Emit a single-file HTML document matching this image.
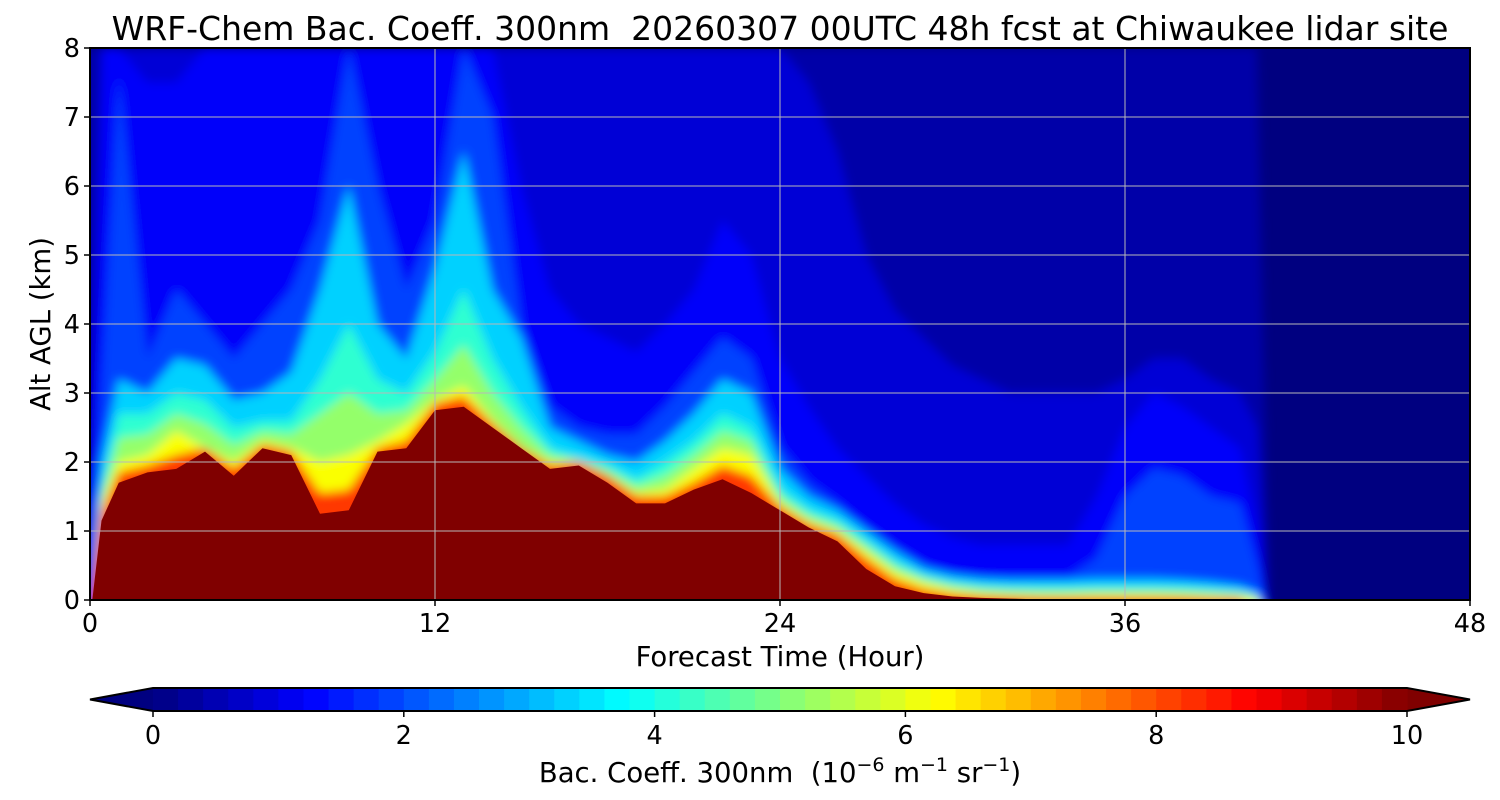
<!DOCTYPE html>
<html><head><meta charset="utf-8">
<style>
html,body{margin:0;padding:0;background:#fff;}
svg{display:block;font-family:"DejaVu Sans","Liberation Sans",sans-serif;}
</style></head>
<body>
<svg id="chart" width="1500" height="800" viewBox="0 0 1500 800" xmlns="http://www.w3.org/2000/svg">
<defs>
<clipPath id="plotclip"><rect x="90" y="48" width="1380" height="551"/></clipPath>
<filter id="soft" x="-5%" y="-5%" width="110%" height="110%"><feGaussianBlur stdDeviation="5"/></filter>
</defs>
<text x="780" y="40" text-anchor="middle" font-size="33" style="white-space:pre">WRF-Chem Bac. Coeff. 300nm  20260307 00UTC 48h fcst at Chiwaukee lidar site</text>
<g id="plot" clip-path="url(#plotclip)"></g>
<g id="axes"></g>
<g id="cbar"></g>
</svg>
<script>
// forecast hours (x) at which contour-level top heights are sampled
const times = [0,0.4,1,2,3,4,5,6,7,8,9,10,11,12,13,14,15,16,17,18,19,20,21,22,23,24,25,26,27,28,29,30,31,32,33,34,35,36,37,38,39,40,40.6,41,42,43,44,45,46,47,48];
// top altitude (km) of region exceeding each level
const lvl05 = [8,8, 8,8,8,8,8,8,8,8,8,8,8,8,8,8,8,8,8,8,8,8,8,8,8,8,8,8,8,8,8,8,8,8,8,8,8,8,8,8,8,8, 8, 0,0,0,0,0,0,0,0];
const lvl1 = [2,8, 8,8,8,8,8,8,8,8,8,8,8,8,8,8,8,8,8,8,8,8,8,8,8,8,7.5, 6.5,5,4.2,3.8,3.4,3.2,3,3,3,3,3.2,3.5,3.5,3.2,3, 2.5, 0,0,0,0,0,0,0,0];
const lvl15 = [1,8, 8,7.5,7.5,8,8,8,8,8,8,8,8,8,8,8,6,4.5,4,3.8,3.6,4,4.5,5.5,5,3.5,2.8,2.2,1.8,1.4,1.1,0.9,0.8,0.8,0.8,0.8,1.5,2.5,3,2.8,2.5,2.2, 1.0, 0,0,0,0,0,0,0,0];
const lvl2 = [0,3, 7.6,3.5,4.5,4,3.5,4,4.5,5.5,8,6,4.5,5.5,8,7,4,2.8,2.5,2.4,2.4,2.8,3.3,3.8,3.5,2.2,1.7,1.4,1.0,0.75,0.5,0.38,0.33,0.33,0.33,0.33,0.6,1.5,1.9,1.8,1.5,1.4, 0.5, 0,0,0,0,0,0,0,0];
const lvl3 = [0,2, 3.2,3.0,3.5,3.4,2.9,3.0,3.3,4.5,6.0,4.0,3.5,4.8,6.5,4.5,3.8,2.5,2.3,2.1,2.0,2.3,2.7,3.2,3.0,1.9,1.5,1.3,1.0,0.7,0.45,0.35,0.3,0.28,0.28,0.28,0.3,0.3,0.3,0.28,0.25,0.2, 0.1, 0,0,0,0,0,0,0,0];
const lvl4 = [0,1.6, 2.7,2.7,3.0,2.9,2.5,2.6,2.6,3.2,4.0,3.2,3.0,3.6,4.5,3.5,2.8,2.2,2.05,1.95,1.75,2.0,2.3,2.7,2.5,1.6,1.3,1.15,0.85,0.55,0.35,0.25,0.2,0.18,0.18,0.18,0.18,0.18,0.18,0.18,0.15,0.12, 0.05, 0,0,0,0,0,0,0,0];
const lvl5 = [0,1.5, 2.35,2.4,2.7,2.55,2.25,2.45,2.4,2.7,3.0,2.7,2.75,3.2,3.7,3.0,2.5,2.1,2.02,1.88,1.65,1.8,2.1,2.45,2.3,1.5,1.22,1.07,0.78,0.48,0.3,0.2,0.15,0.13,0.12,0.12,0.13,0.13,0.13,0.12,0.1,0.08, 0.03, 0,0,0,0,0,0,0,0];
const lvl6 = [0,1.4, 2.0,2.1,2.45,2.2,2.0,2.3,2.2,2.0,2.1,2.3,2.55,2.9,3.1,2.6,2.2,2.0,2.0,1.8,1.55,1.6,1.9,2.2,2.1,1.4,1.15,1.0,0.7,0.4,0.25,0.15,0.1,0.08,0.07,0.07,0.08,0.08,0.08,0.07,0.06,0.05, 0.02, 0,0,0,0,0,0,0,0];
const lvl8 = [0,1.25, 1.85,1.95,2.1,2.2,1.9,2.25,2.15,1.55,1.6,2.2,2.3,2.85,2.95,2.55,2.2,1.95,2.0,1.8,1.5,1.5,1.7,1.95,1.8,1.35,1.1,0.95,0.6,0.3,0.15,0.08,0.05,0.04,0.03,0.03,0.03,0.03,0.03,0.03,0.02,0.02, 0, 0,0,0,0,0,0,0,0];
const lvl10 = [0,1.15, 1.7,1.85,1.9,2.15,1.8,2.2,2.1,1.25,1.3,2.15,2.2,2.75,2.8,2.5,2.2,1.9,1.95,1.7,1.4,1.4,1.6,1.75,1.55,1.3,1.05,0.85,0.45,0.2,0.1,0.05,0.03,0.02,0.01,0,0,0,0,0,0,0, 0, 0,0,0,0,0,0,0,0];
const levelValues = [0.4,0.85,1.2,1.9,3.3,4.2,5.2,6.2,8.2,10];
const xTicks = [0,12,24,36,48];
const yTicks = [0,1,2,3,4,5,6,7,8];
const cbTicks = [0,2,4,6,8,10];

const NS = "http://www.w3.org/2000/svg";
const X0=90, X1=1470, Y0=600, Y1=48;
const xs = h => X0 + (h/48)*(X1-X0);
const ys = k => Y0 - (k/8)*(Y0-Y1);
const yTop = k => k>0 ? ys(k) : Y0+20;
function jet(t){
  t=Math.max(0,Math.min(1,t));
  const c=v=>Math.round(255*Math.max(0,Math.min(1,v)));
  return `rgb(${c(1.5-Math.abs(4*t-3))},${c(1.5-Math.abs(4*t-2))},${c(1.5-Math.abs(4*t-1))})`;
}
function mk(tag, attrs, parent){
  const e=document.createElementNS(NS,tag);
  for(const k in attrs) e.setAttribute(k,attrs[k]);
  parent.appendChild(e); return e;
}
const plot=document.getElementById('plot');
const bg = mk('rect',{x:X0,y:Y1,width:X1-X0,height:Y0-Y1,fill:jet(0)},plot);


const soft = mk('g',{filter:'url(#soft)'},plot);


const levels=[lvl05,lvl1,lvl15,lvl2,lvl3,lvl4,lvl5,lvl6,lvl8,lvl10];
levels.forEach((arr,i)=>{
  let d=`M${xs(times[0])-20},${Y0+20} L${xs(times[0])-20},${yTop(arr[0])}`;
  arr.forEach((v,j)=>{ d+=` L${xs(times[j])},${yTop(v)}`; });
  const last=times.length-1;
  d+=` L${xs(times[last])+20},${yTop(arr[last])} L${xs(times[last])+20},${Y0+20} Z`;
  const p=mk('path',{d:d,fill:jet(levelValues[i]/10)}, i===levels.length-1?plot:soft);
  
  
});
// grid
const axes=document.getElementById('axes');
xTicks.forEach(t=>{
  if(t>0&&t<48){const g=mk('line',{x1:xs(t),x2:xs(t),y1:Y1,y2:Y0,stroke:'#b8b8b8','stroke-width':1},axes);
  
  }
  const tk=mk('line',{x1:xs(t),x2:xs(t),y1:Y0,y2:Y0+6,stroke:'#000','stroke-width':1.5},axes);
  
  
  const tx=mk('text',{x:xs(t),y:632,'text-anchor':'middle','font-size':25.5},axes);
  tx.textContent=t;
  
  
});
yTicks.forEach(t=>{
  if(t>0&&t<8){const g=mk('line',{x1:X0,x2:X1,y1:ys(t),y2:ys(t),stroke:'#b8b8b8','stroke-width':1},axes);
  
  }
  const tk=mk('line',{x1:X0-6,x2:X0,y1:ys(t),y2:ys(t),stroke:'#000','stroke-width':1.5},axes);
  
  
  const tx=mk('text',{x:X0-10,y:ys(t)+9,'text-anchor':'end','font-size':25.5},axes);
  tx.textContent=t;
  
  
});
const frame=mk('rect',{x:X0,y:Y1,width:X1-X0,height:Y0-Y1,fill:'none',stroke:'#000','stroke-width':2},axes);


const xl=mk('text',{x:780,y:666,'text-anchor':'middle','font-size':27.5},axes);
xl.textContent='Forecast Time (Hour)';


const yl=mk('text',{x:50,y:324,'text-anchor':'middle','font-size':27.5,transform:'rotate(-90 50 324)'},axes);
yl.textContent='Alt AGL (km)';


// colorbar
const cb=document.getElementById('cbar');
const CX0=153, CX1=1407, CY0=688, CY1=711;
const cx = v => CX0 + (v/10)*(CX1-CX0);
const nb=50;
const lt=mk('polygon',{points:`90,${(CY0+CY1)/2} ${CX0},${CY0} ${CX0},${CY1}`,fill:jet(0)},cb);


const rt=mk('polygon',{points:`1470,${(CY0+CY1)/2} ${CX1},${CY0} ${CX1},${CY1}`,fill:jet(1)},cb);


for(let i=0;i<nb;i++){
  const r=mk('rect',{x:cx(i*10/nb),y:CY0,width:(CX1-CX0)/nb+0.6,height:CY1-CY0,fill:jet((i+0.5)/nb)},cb);
  
  
}
const ol=mk('polygon',{points:`90,${(CY0+CY1)/2} ${CX0},${CY0} ${CX1},${CY0} 1470,${(CY0+CY1)/2} ${CX1},${CY1} ${CX0},${CY1}`,fill:'none',stroke:'#000','stroke-width':2},cb);


cbTicks.forEach(t=>{
  const tk=mk('line',{x1:cx(t),x2:cx(t),y1:CY1,y2:CY1+6,stroke:'#000','stroke-width':1.5},cb);
  
  
  const tx=mk('text',{x:cx(t),y:744,'text-anchor':'middle','font-size':25.5},cb);
  tx.textContent=t;
  
  
});
const cl=mk('text',{x:780,y:782,'text-anchor':'middle','font-size':27.5,style:'white-space:pre'},cb);
cl.innerHTML='Bac. Coeff. 300nm  (10<tspan dy="-11" font-size="19">\u22126</tspan><tspan dy="11"> m</tspan><tspan dy="-11" font-size="19">\u22121</tspan><tspan dy="11"> sr</tspan><tspan dy="-11" font-size="19">\u22121</tspan><tspan dy="11">)</tspan>';


</script>
</body></html>
